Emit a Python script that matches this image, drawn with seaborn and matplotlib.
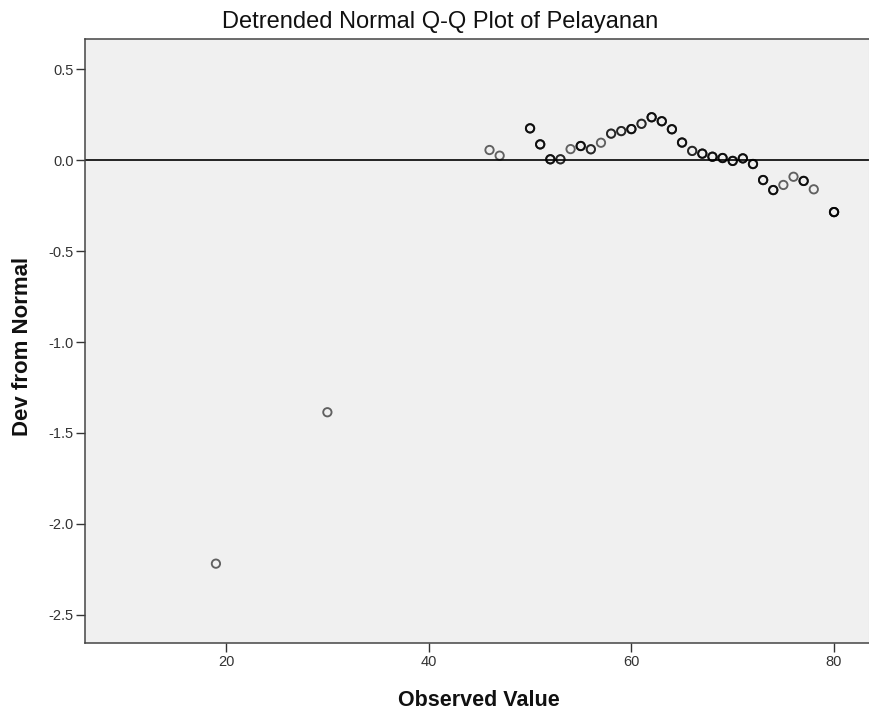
import numpy as np
import pandas as pd
import matplotlib
matplotlib.use("Agg")
import matplotlib.pyplot as plt
import seaborn as sns

observed = [19, 30, 46, 47, 50, 51, 52, 53, 54, 55, 56, 57, 58, 59, 60, 61, 62,
            63, 64, 65, 66, 67, 68, 69, 70, 71, 72, 73, 74, 75, 76, 77, 78, 80]
deviation = [-2.218, -1.386, 0.055, 0.024, 0.174, 0.086, 0.004, 0.004, 0.060,
             0.077, 0.059, 0.095, 0.145, 0.159, 0.170, 0.199, 0.235, 0.213,
             0.169, 0.096, 0.050, 0.035, 0.018, 0.011, -0.005, 0.009, -0.022,
             -0.110, -0.165, -0.137, -0.092, -0.115, -0.161, -0.286]
# number of cases at each observed value (duplicates show as darker circles)
cases = [1, 1, 1, 1, 3, 3, 3, 2, 1, 3, 2, 1, 2, 2, 3, 2, 3,
         3, 3, 3, 2, 3, 3, 3, 3, 3, 3, 3, 3, 1, 1, 3, 1, 4]

xticks = [20, 40, 60, 80]
yticks = [0.5, 0.0, -0.5, -1.0, -1.5, -2.0, -2.5]

df = pd.DataFrame({"Observed Value": observed, "Dev from Normal": deviation, "cases": cases})
df = df.loc[df.index.repeat(df["cases"])].reset_index(drop=True)

sns.set_theme(style="ticks")
plt.rcParams["font.family"] = ["Liberation Sans", "DejaVu Sans"]

fig = plt.figure(figsize=(8.7, 7.1), dpi=100)
ax = fig.add_axes([85 / 870, 67 / 710, 784 / 870, 604 / 710])
ax.set_facecolor("#f0f0f0")

ax.axhline(0, color="black", linewidth=1.2, zorder=1)
sns.scatterplot(data=df, x="Observed Value", y="Dev from Normal", marker="o",
                s=36, linewidth=1.35, ax=ax, zorder=3)
pts = ax.collections[0]
pts.set_facecolor("none")
pts.set_edgecolor((0, 0, 0, 0.6))

ax.set_xlim(6.08, 83.45)
ax.set_ylim(-2.654, 0.665)
ax.set_xticks(xticks)
ax.set_yticks(yticks)
ax.set_yticklabels([f"{v:.1f}" for v in yticks])
ax.set_xlabel("")
ax.set_ylabel("")
ax.tick_params(axis="both", direction="out", length=6.5, width=1.0, color="#333333",
               labelsize=10.5, labelcolor="#333333")
ax.tick_params(axis="y", pad=1.5)
ax.tick_params(axis="x", pad=2.5)

for side in ["left", "bottom", "top"]:
    ax.spines[side].set_color("#444444")
    ax.spines[side].set_linewidth(1.1)
    ax.spines[side].set_visible(True)
ax.spines["right"].set_visible(True)
ax.spines["right"].set_color("#dddddd")
ax.spines["right"].set_linewidth(0.8)

fig.text(440 / 870, 1 - 28 / 710, "Detrended Normal Q-Q Plot of Pelayanan",
         ha="center", va="baseline", fontsize=17, color="#111111")
fig.text(479 / 870, 1 - 706 / 710, "Observed Value", ha="center", va="baseline",
         fontsize=15.5, fontweight="bold", color="#111111")
fig.text(23 / 870, 1 - 346 / 710, "Dev from Normal", ha="center", va="center",
         rotation=90, fontsize=16, fontweight="bold", color="#111111")

fig.savefig("out.png", dpi=100, facecolor="white")
